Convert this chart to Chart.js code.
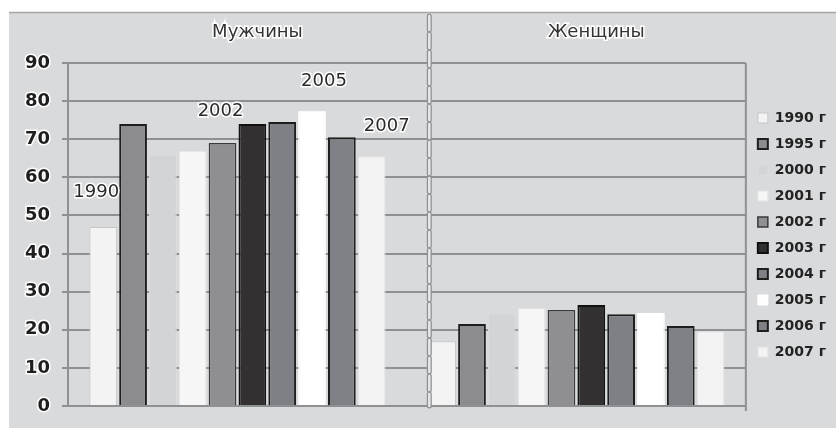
<!DOCTYPE html>
<html>
<head>
<meta charset="utf-8">
<script src="https://cdn.jsdelivr.net/npm/chart.js@4/dist/chart.umd.min.js"></script>
<style>
  html, body { margin: 0; padding: 0; background: #fff; }
  #wrap { width: 836px; height: 430px; }
</style>
</head>
<body>
<div id="wrap"><canvas id="chart" width="836" height="430"></canvas></div>
<script>
// категории и ряды
var categories = ["Мужчины", "Женщины"];
var years = ["1990 г", "1995 г", "2000 г", "2001 г", "2002 г", "2003 г", "2004 г", "2005 г", "2006 г", "2007 г"];
var menValues = [47, 74, 66, 67, 69, 74, 74.5, 77.5, 70.5, 65.5];
var womenValues = [17, 21.5, 24.3, 25.7, 25.2, 26.5, 24.1, 24.4, 21, 19.6];
var yMin = 0, yMax = 90, yStep = 10;
// подписи над столбцами мужчин
var markedYears = ["1990", "2002", "2005", "2007"];

var fills = ["#f3f3f3", "#8b8b90", "#d2d4d6", "#f6f6f6", "#8e8e93", "#333031", "#7f8085", "#ffffff", "#808186", "#f3f3f3"];
var borders = ["#c4c6c8", "#1e1e1e", "#dcdcdc", "#e4e4e4", "#3a3a3a", "#111111", "#1e1e1e", "#ffffff", "#1e1e1e", "#e2e2e2"];
var borderWidths = [1, 2, 1, 1, 1.5, 2, 2, 1, 2, 1];

var datasets = [];
years.forEach(function (y, i) {
    datasets.push({
        label: y,
        data: [menValues[i], womenValues[i]],
        backgroundColor: fills[i],
        borderColor: borders[i],
        borderWidth: borderWidths[i],
        categoryPercentage: 0.88,
        barPercentage: 0.93
    });
});

var decor = {
    id: "decor",
    beforeDraw: function (chart) {
        var ctx = chart.ctx;
        ctx.save();
        ctx.fillStyle = "#ffffff";
        ctx.fillRect(0, 0, chart.width, chart.height);
        ctx.fillStyle = "#d8dadc";
        ctx.fillRect(9, 12, chart.width - 9, chart.height - 14);
        ctx.strokeStyle = "#a4a6a8";
        ctx.lineWidth = 1.5;
        ctx.beginPath();
        ctx.moveTo(9, 12.5);
        ctx.lineTo(chart.width, 12.5);
        ctx.stroke();
        ctx.restore();
    },
    afterDatasetsDraw: function (chart) {
        var ctx = chart.ctx;
        var area = chart.chartArea;
        ctx.save();
        // правая граница области построения
        ctx.strokeStyle = "#8e9094";
        ctx.lineWidth = 2;
        ctx.beginPath();
        ctx.moveTo(area.right, area.top);
        ctx.lineTo(area.right, area.bottom + 5);
        ctx.stroke();

        // пунктирный разделитель перед группой женщин
        var firstBar = chart.getDatasetMeta(0).data[1];
        var sx = firstBar.x - firstBar.width / 2 + 1;
        ctx.setLineDash([14, 4]);
        ctx.lineCap = "round";
        ctx.strokeStyle = "#8e9094";
        ctx.lineWidth = 5;
        ctx.beginPath();
        ctx.moveTo(sx, 16);
        ctx.lineTo(sx, area.bottom);
        ctx.stroke();
        ctx.strokeStyle = "#e6e7e8";
        ctx.lineWidth = 2.5;
        ctx.stroke();
        ctx.setLineDash([]);

        // подписи лет над отдельными столбцами
        var shift = { "1990": -7, "2002": -2, "2005": 12, "2007": 15 };
        var gap = { "1990": 26, "2002": 23, "2005": 20, "2007": 21 };
        ctx.font = "18px 'DejaVu Sans'";
        ctx.textAlign = "center";
        ctx.textBaseline = "bottom";
        markedYears.forEach(function (yr) {
            var idx = years.findIndex(function (l) { return l.indexOf(yr) === 0; });
            var bar = chart.getDatasetMeta(idx).data[0];
            var tx = bar.x + shift[yr];
            var ty = bar.y - gap[yr];
            ctx.lineWidth = 3;
            ctx.strokeStyle = "#ffffff";
            ctx.strokeText(yr, tx, ty);
            ctx.fillStyle = "#2a2a2a";
            ctx.fillText(yr, tx, ty);
        });
        ctx.restore();
    }
};

var ctx = document.getElementById("chart");
var myChart = new Chart(ctx, {
    type: "bar",
    data: {
        labels: categories,
        datasets: datasets
    },
    options: {
        responsive: false,
        animation: false,
        layout: { padding: { top: 12, left: 0, right: 0, bottom: 24 } },
        plugins: {
            tooltip: { enabled: false },
            legend: {
                position: "right",
                title: {
                    display: true,
                    text: " ",
                    color: "rgba(0,0,0,0)",
                    font: { size: 10 },
                    padding: { top: 40, bottom: 0 }
                },
                labels: {
                    boxWidth: 10,
                    boxHeight: 10,
                    padding: 12,
                    color: "#222",
                    font: { family: "'DejaVu Sans'", size: 14, weight: "bold" }
                }
            }
        },
        scales: {
            x: {
                position: "top",
                grid: { display: false },
                border: { display: false },
                ticks: {
                    color: "#333",
                    padding: 12,
                    labelOffset: 20,
                    font: { family: "'DejaVu Sans'", size: 18 },
                    textStrokeColor: "#ffffff",
                    textStrokeWidth: 3
                },
                afterFit: function (scale) { scale.height = 51; }
            },
            y: {
                min: yMin,
                max: yMax,
                ticks: {
                    stepSize: yStep,
                    color: "#1e1e1e",
                    padding: 12,
                    font: { family: "'DejaVu Sans'", size: 18, weight: "bold" },
                    textStrokeColor: "#ffffff",
                    textStrokeWidth: 3
                },
                grid: { color: "#8e9094", lineWidth: 2, tickLength: 6 },
                border: { color: "#8e9094", width: 2 },
                afterFit: function (scale) { scale.width = 68; }
            }
        }
    },
    plugins: [decor]
});
</script>
</body>
</html>
